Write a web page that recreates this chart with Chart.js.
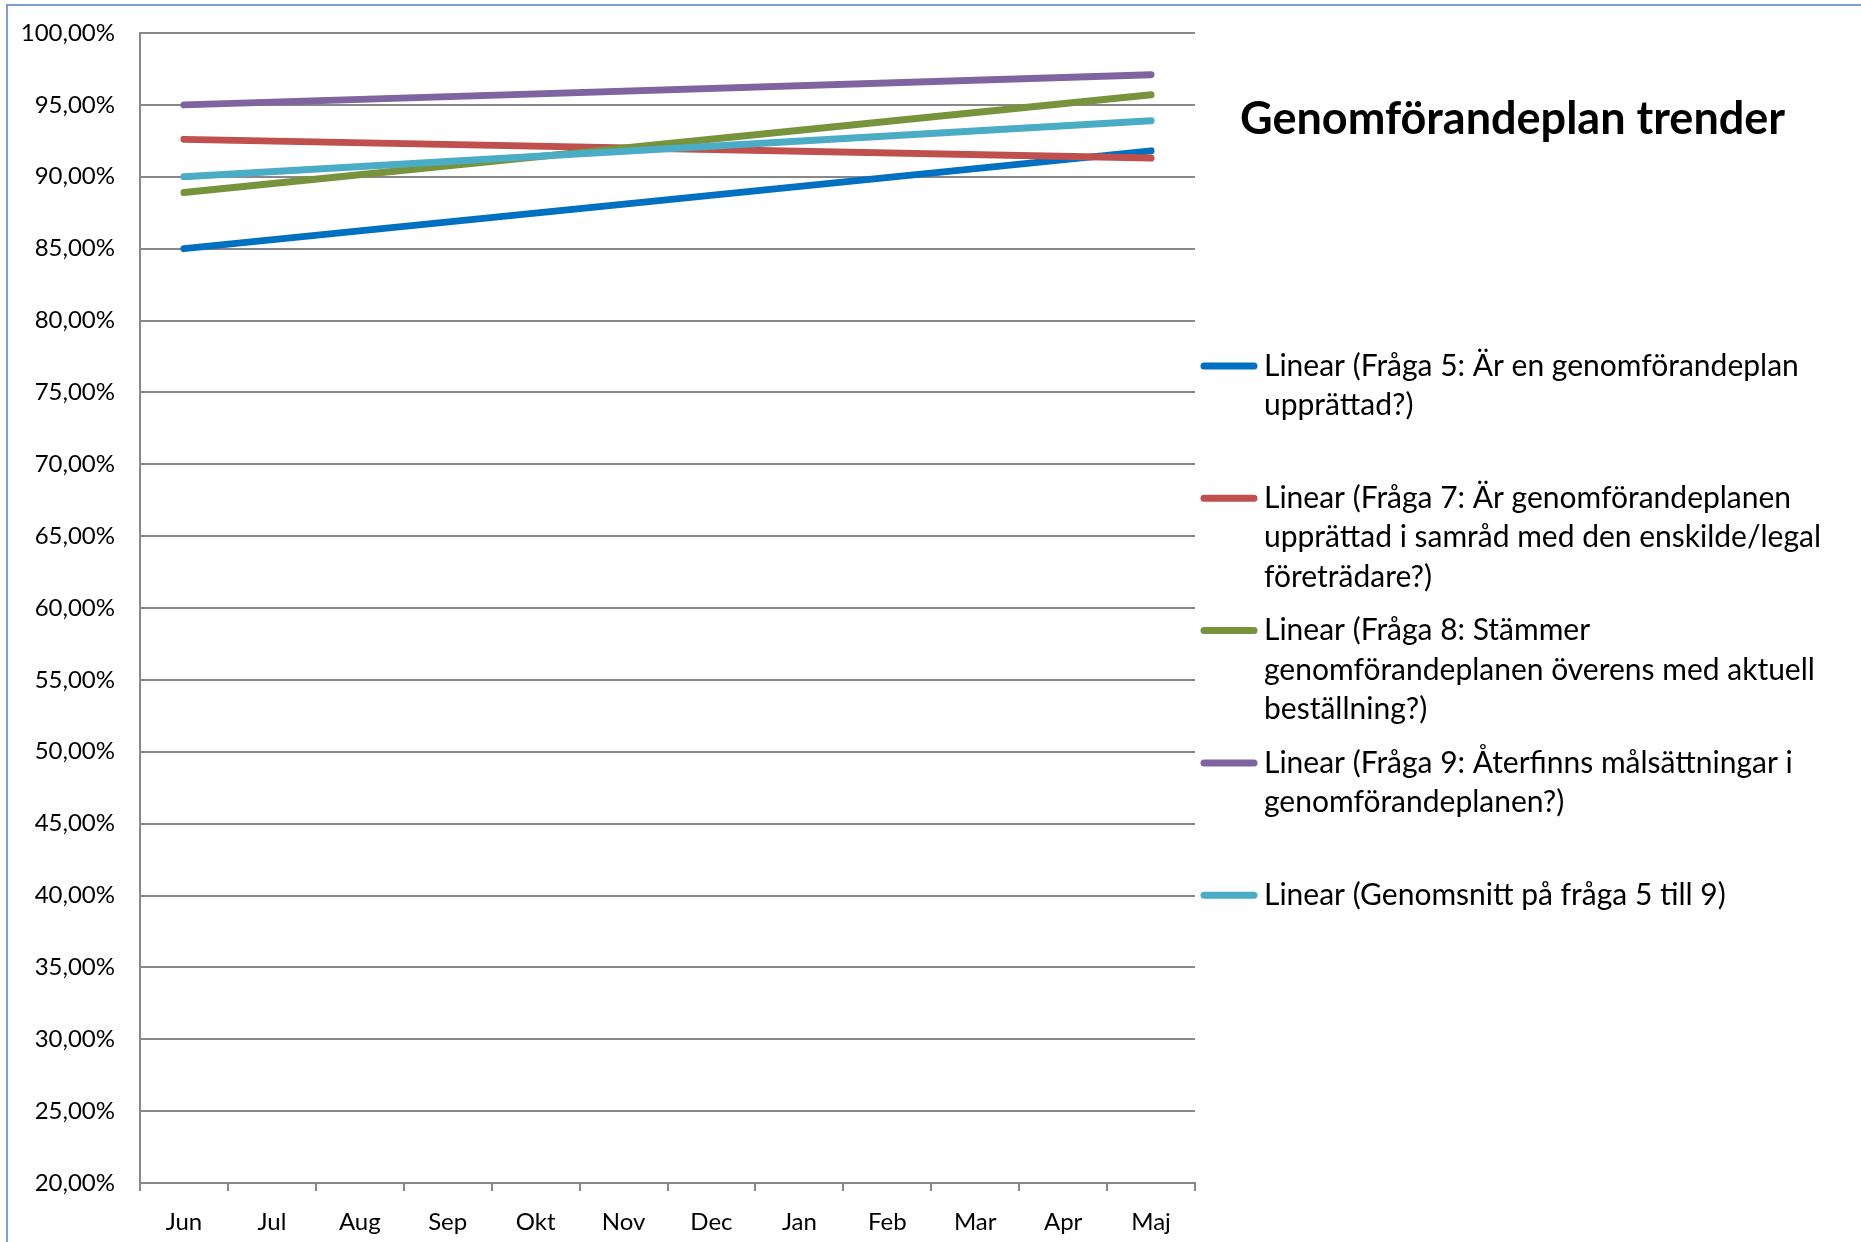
<!DOCTYPE html>
<html lang="sv">
<head>
<meta charset="UTF-8">
<title>Genomförandeplan trender</title>
<script src="https://cdn.jsdelivr.net/npm/chart.js"></script>
<style>
  html, body { margin: 0; padding: 0; background: #fff; }
  #wrap { width: 1861px; height: 1242px; }
</style>
</head>
<body>
<div id="wrap"><canvas id="trendChart" width="1861" height="1242"></canvas></div>
<script>
// data (percent), trendlines only have start/end value
const months = ['Jun', 'Jul', 'Aug', 'Sep', 'Okt', 'Nov', 'Dec', 'Jan', 'Feb', 'Mar', 'Apr', 'Maj'];
const fraga5 = [85.0, null, null, null, null, null, null, null, null, null, null, 91.8];
const fraga7 = [92.6, null, null, null, null, null, null, null, null, null, null, 91.3];
const fraga8 = [88.9, null, null, null, null, null, null, null, null, null, null, 95.7];
const fraga9 = [95.0, null, null, null, null, null, null, null, null, null, null, 97.1];
const snitt  = [90.0, null, null, null, null, null, null, null, null, null, null, 93.9];

const chartTitle = 'Genomförandeplan trender';
const seriesLabels = [
  ['Linear (Fråga 5: Är en genomförandeplan', 'upprättad?)'],
  ['Linear (Fråga 7: Är genomförandeplanen', 'upprättad i samråd med den enskilde/legal', 'företrädare?)'],
  ['Linear (Fråga 8: Stämmer', 'genomförandeplanen överens med aktuell', 'beställning?)'],
  ['Linear (Fråga 9: Återfinns målsättningar i', 'genomförandeplanen?)'],
  ['Linear (Genomsnitt på fråga 5 till 9)']
];
const seriesColors = ['#0070C0', '#C0504D', '#77933C', '#8064A2', '#4BACC6'];
const yMin = 20, yMax = 100, yStep = 5;

const FONT = 'Lato, "Open Sans", sans-serif';

// white background + blue frame, title and the wrapped legend on the right
const sideStuff = {
  id: 'sideStuff',
  beforeDraw(chart) {
    const ctx = chart.ctx;
    ctx.save();
    ctx.fillStyle = '#fff';
    ctx.fillRect(0, 0, chart.width, chart.height);
    ctx.strokeStyle = '#7A9FD6';
    ctx.lineWidth = 2;
    ctx.beginPath();
    ctx.moveTo(7, chart.height);
    ctx.lineTo(7, 5);
    ctx.lineTo(chart.width, 5);
    ctx.stroke();
    ctx.restore();
  },
  afterDraw(chart) {
    const ctx = chart.ctx;
    ctx.save();
    ctx.fillStyle = '#000';
    ctx.textAlign = 'left';
    ctx.textBaseline = 'middle';
    ctx.font = 'bold 45px ' + FONT;
    ctx.fillText(chartTitle, 1240, 119);

    ctx.font = '30px ' + FONT;
    chart.data.datasets.forEach((ds, i) => {
      const y0 = 366 + i * 132.3;
      ctx.strokeStyle = ds.borderColor;
      ctx.lineWidth = 7;
      ctx.lineCap = 'round';
      ctx.beginPath();
      ctx.moveTo(1204, y0);
      ctx.lineTo(1254, y0);
      ctx.stroke();
      seriesLabels[i].forEach((t, j) => {
        ctx.fillText(t, 1264, y0 + j * 39.5);
      });
    });
    ctx.restore();
  }
};

const allSeries = [fraga5, fraga7, fraga8, fraga9, snitt];

new Chart(document.getElementById('trendChart'), {
  type: 'line',
  data: {
    labels: months,
    datasets: allSeries.map((d, i) => ({
      label: seriesLabels[i].join(' '),
      data: d,
      borderColor: seriesColors[i],
      backgroundColor: seriesColors[i],
      borderWidth: 7,
      borderCapStyle: 'round',
      pointRadius: 0,
      spanGaps: true,
      fill: false,
      order: 5 - i
    }))
  },
  options: {
    responsive: false,
    animation: false,
    layout: { autoPadding: false, padding: { left: 0, right: 666, top: 33, bottom: 0 } },
    plugins: {
      legend: { display: false },
      title: { display: false },
      tooltip: { enabled: false }
    },
    scales: {
      x: {
        offset: true,
        grid: {
          offset: true,
          drawOnChartArea: false,
          drawTicks: true,
          tickLength: 8,
          color: '#888',
          lineWidth: 2
        },
        border: { color: '#888', width: 2 },
        ticks: {
          color: '#000',
          font: { family: FONT, size: 24 },
          padding: 17,
          maxRotation: 0,
          autoSkip: false
        },
        afterFit(scale) { scale.height = 59; }
      },
      y: {
        min: yMin,
        max: yMax,
        grid: { color: '#888', lineWidth: 2, drawTicks: false },
        border: { color: '#888', width: 2 },
        ticks: {
          stepSize: yStep,
          color: '#000',
          font: { family: FONT, size: 24 },
          padding: 25,
          callback: v => v.toFixed(2).replace('.', ',') + '%'
        },
        afterFit(scale) {
          scale.width = 140;
          // tick padding otherwise pushes the plot top down
          scale.paddingTop = 0;
          scale.paddingBottom = 0;
        }
      }
    }
  },
  plugins: [sideStuff]
});
</script>
</body>
</html>
